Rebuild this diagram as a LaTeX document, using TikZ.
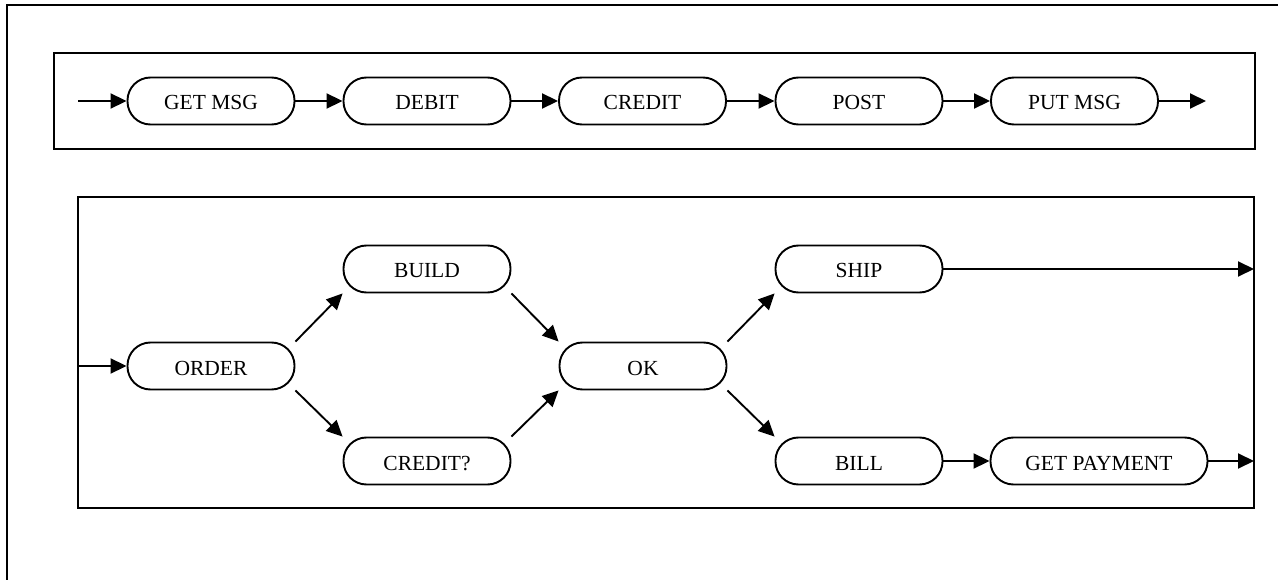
\documentclass[tikz,border=0pt]{standalone}
\usepackage{fontspec}
\setmainfont{Liberation Serif}
\usetikzlibrary{arrows.meta}
\begin{document}
\begin{tikzpicture}[x=1pt,y=-1pt,
  stage/.style={draw, line width=1.9pt, rounded corners=23pt, minimum width=167pt, minimum height=47pt, inner sep=0pt, font=\fontsize{21.5}{24}\selectfont, text height=18pt, text depth=0pt},
  flow/.style={line width=1.9pt, -{Triangle[length=16pt,width=15pt]}},
  frame/.style={line width=2pt}]
\useasboundingbox (0,0) rectangle (1278,580);
% outer frame (partly visible)
\draw[frame] (7,582) -- (7,5) -- (1280,5);
% top box
\draw[frame] (54,53) rectangle (1255,149);
% bottom box
\draw[frame] (78,197) rectangle (1254,508);

% top row
\node[stage] (getmsg) at (211,101) {GET MSG};
\node[stage] (debit) at (427,101) {DEBIT};
\node[stage] (credit) at (642.5,101) {CREDIT};
\node[stage] (post) at (859,101) {POST};
\node[stage] (putmsg) at (1074.5,101) {PUT MSG};
\coordinate (tin) at (78,101);
\coordinate (tout) at (1206,101);
\draw[flow] (tin) -- (getmsg);
\draw[flow] (getmsg) -- (debit);
\draw[flow] (debit) -- (credit);
\draw[flow] (credit) -- (post);
\draw[flow] (post) -- (putmsg);
\draw[flow] (putmsg) -- (tout);

% bottom network
\node[stage] (order) at (211,366) {ORDER};
\node[stage] (build) at (427,269) {BUILD};
\node[stage] (creditq) at (427,461) {CREDIT?};
\node[stage] (ok) at (643,366) {OK};
\node[stage] (ship) at (859,269) {SHIP};
\node[stage] (bill) at (859,461) {BILL};
\node[stage, minimum width=217pt] (getpay) at (1099,461) {GET PAYMENT};
\coordinate (bin) at (78,366);
\coordinate (shipout) at (1254,269);
\coordinate (payout) at (1254,461);
\draw[flow] (bin) -- (order);
\draw[flow] (order.north east) -- (build.south west);
\draw[flow] (order.south east) -- (creditq.north west);
\draw[flow] (build.south east) -- (ok.north west);
\draw[flow] (creditq.north east) -- (ok.south west);
\draw[flow] (ok.north east) -- (ship.south west);
\draw[flow] (ok.south east) -- (bill.north west);
\draw[flow] (ship) -- (shipout);
\draw[flow] (bill) -- (getpay);
\draw[flow] (getpay) -- (payout);
\end{tikzpicture}
\end{document}
